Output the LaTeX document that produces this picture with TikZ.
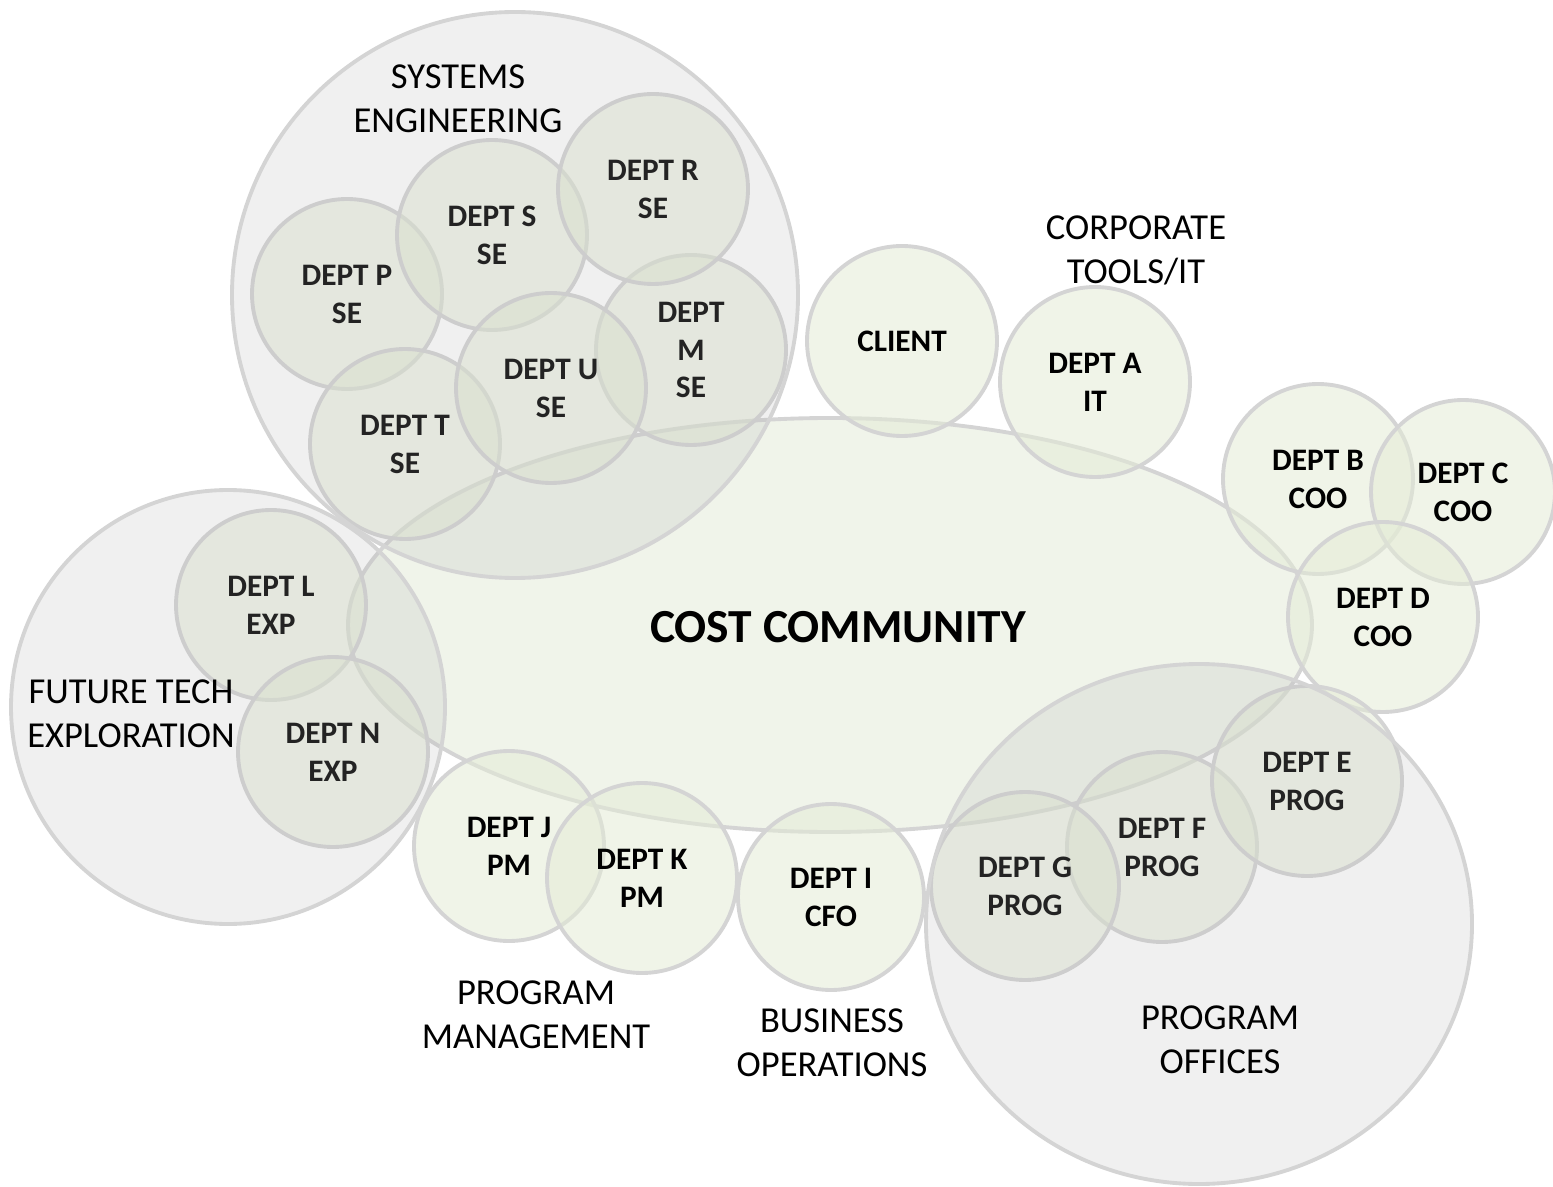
\documentclass[tikz,border=0pt]{standalone}
\usepackage{fontspec}
\setmainfont{Carlito}
\usetikzlibrary{shapes.geometric}

\definecolor{rimgray}{HTML}{D4D4D4}
\definecolor{commfill}{HTML}{F0F4EA}
\definecolor{deptfill}{HTML}{E4EBD6}
\definecolor{grpfill}{HTML}{B3B3B3}

\tikzset{
  dept/.style={circle, draw=rimgray, line width=1.1pt, fill=deptfill, fill opacity=0.55, text opacity=1,
    minimum size=1.9cm, inner sep=0pt, align=center, font=\bfseries\fontsize{8.9}{10.8}\selectfont},
  grp/.style={circle, draw=rimgray, line width=1.1pt, fill=grpfill, fill opacity=0.2, inner sep=0pt},
  glabel/.style={align=center, font=\fontsize{10.4}{12.5}\selectfont}
}

\begin{document}
\begin{tikzpicture}
\useasboundingbox (0,0) rectangle (15.53,-11.87);
\node [ellipse, draw=rimgray, line width=1.1pt, fill=commfill, minimum width=9.64cm, minimum height=4.14cm] (comm) at (8.30,-6.25) {};
\node [font=\bfseries\fontsize{13.5}{16}\selectfont] (commlabel) at (8.38,-6.27) {COST COMMUNITY};
% systems engineering
\node [dept] (deptM) at (6.91,-3.50) {DEPT\\M\\SE};
\node [dept] (deptP) at (3.47,-2.94) {DEPT P\\SE};
\node [dept] (deptS) at (4.92,-2.35) {DEPT S\\SE};
\node [dept] (deptR) at (6.53,-1.89) {DEPT R\\SE};
\node [dept] (deptT) at (4.05,-4.44) {DEPT T\\SE};
\node [dept] (deptU) at (5.51,-3.88) {DEPT U\\SE};
% client and corporate tools
\node [dept] (client) at (9.02,-3.41) {CLIENT};
\node [dept] (deptA) at (10.95,-3.82) {DEPT A\\IT};
% coo
\node [dept] (deptB) at (13.18,-4.79) {DEPT B\\COO};
\node [dept, minimum size=1.84cm] (deptC) at (14.63,-4.92) {DEPT C\\COO};
\node [dept] (deptD) at (13.83,-6.17) {DEPT D\\COO};
% future tech
\node [dept] (deptL) at (2.71,-6.05) {DEPT L\\EXP};
\node [dept] (deptN) at (3.33,-7.52) {DEPT N\\EXP};
% program management and cfo
\node [dept] (deptJ) at (5.09,-8.46) {DEPT J\\PM};
\node [dept] (deptK) at (6.42,-8.78) {DEPT K\\PM};
\node [dept, minimum size=1.86cm] (deptI) at (8.31,-8.97) {DEPT I\\CFO};
% program offices
\node [dept] (deptF) at (11.62,-8.47) {DEPT F\\PROG};
\node [dept] (deptE) at (13.07,-7.81) {DEPT E\\PROG};
\node [dept, minimum size=1.88cm] (deptG) at (10.25,-8.86) {DEPT G\\PROG};
% groups
\node [grp, minimum size=5.66cm] (se) at (5.15,-2.95) {};
\node [grp, minimum size=4.34cm] (ft) at (2.28,-7.07) {};
\node [grp, ellipse, minimum width=5.46cm, minimum height=5.20cm] (po) at (11.99,-9.24) {};
\node [glabel] (selabel) at (4.58,-0.99) {SYSTEMS\\ENGINEERING};
\node [glabel] (itlabel) at (11.36,-2.50) {CORPORATE\\TOOLS/IT};
\node [glabel] (ftlabel) at (1.31,-7.14) {FUTURE TECH\\EXPLORATION};
\node [glabel] (pmlabel) at (5.36,-10.15) {PROGRAM\\MANAGEMENT};
\node [glabel] (bolabel) at (8.32,-10.43) {BUSINESS\\OPERATIONS};
\node [glabel] (polabel) at (12.20,-10.40) {PROGRAM\\OFFICES};
\end{tikzpicture}
\end{document}
